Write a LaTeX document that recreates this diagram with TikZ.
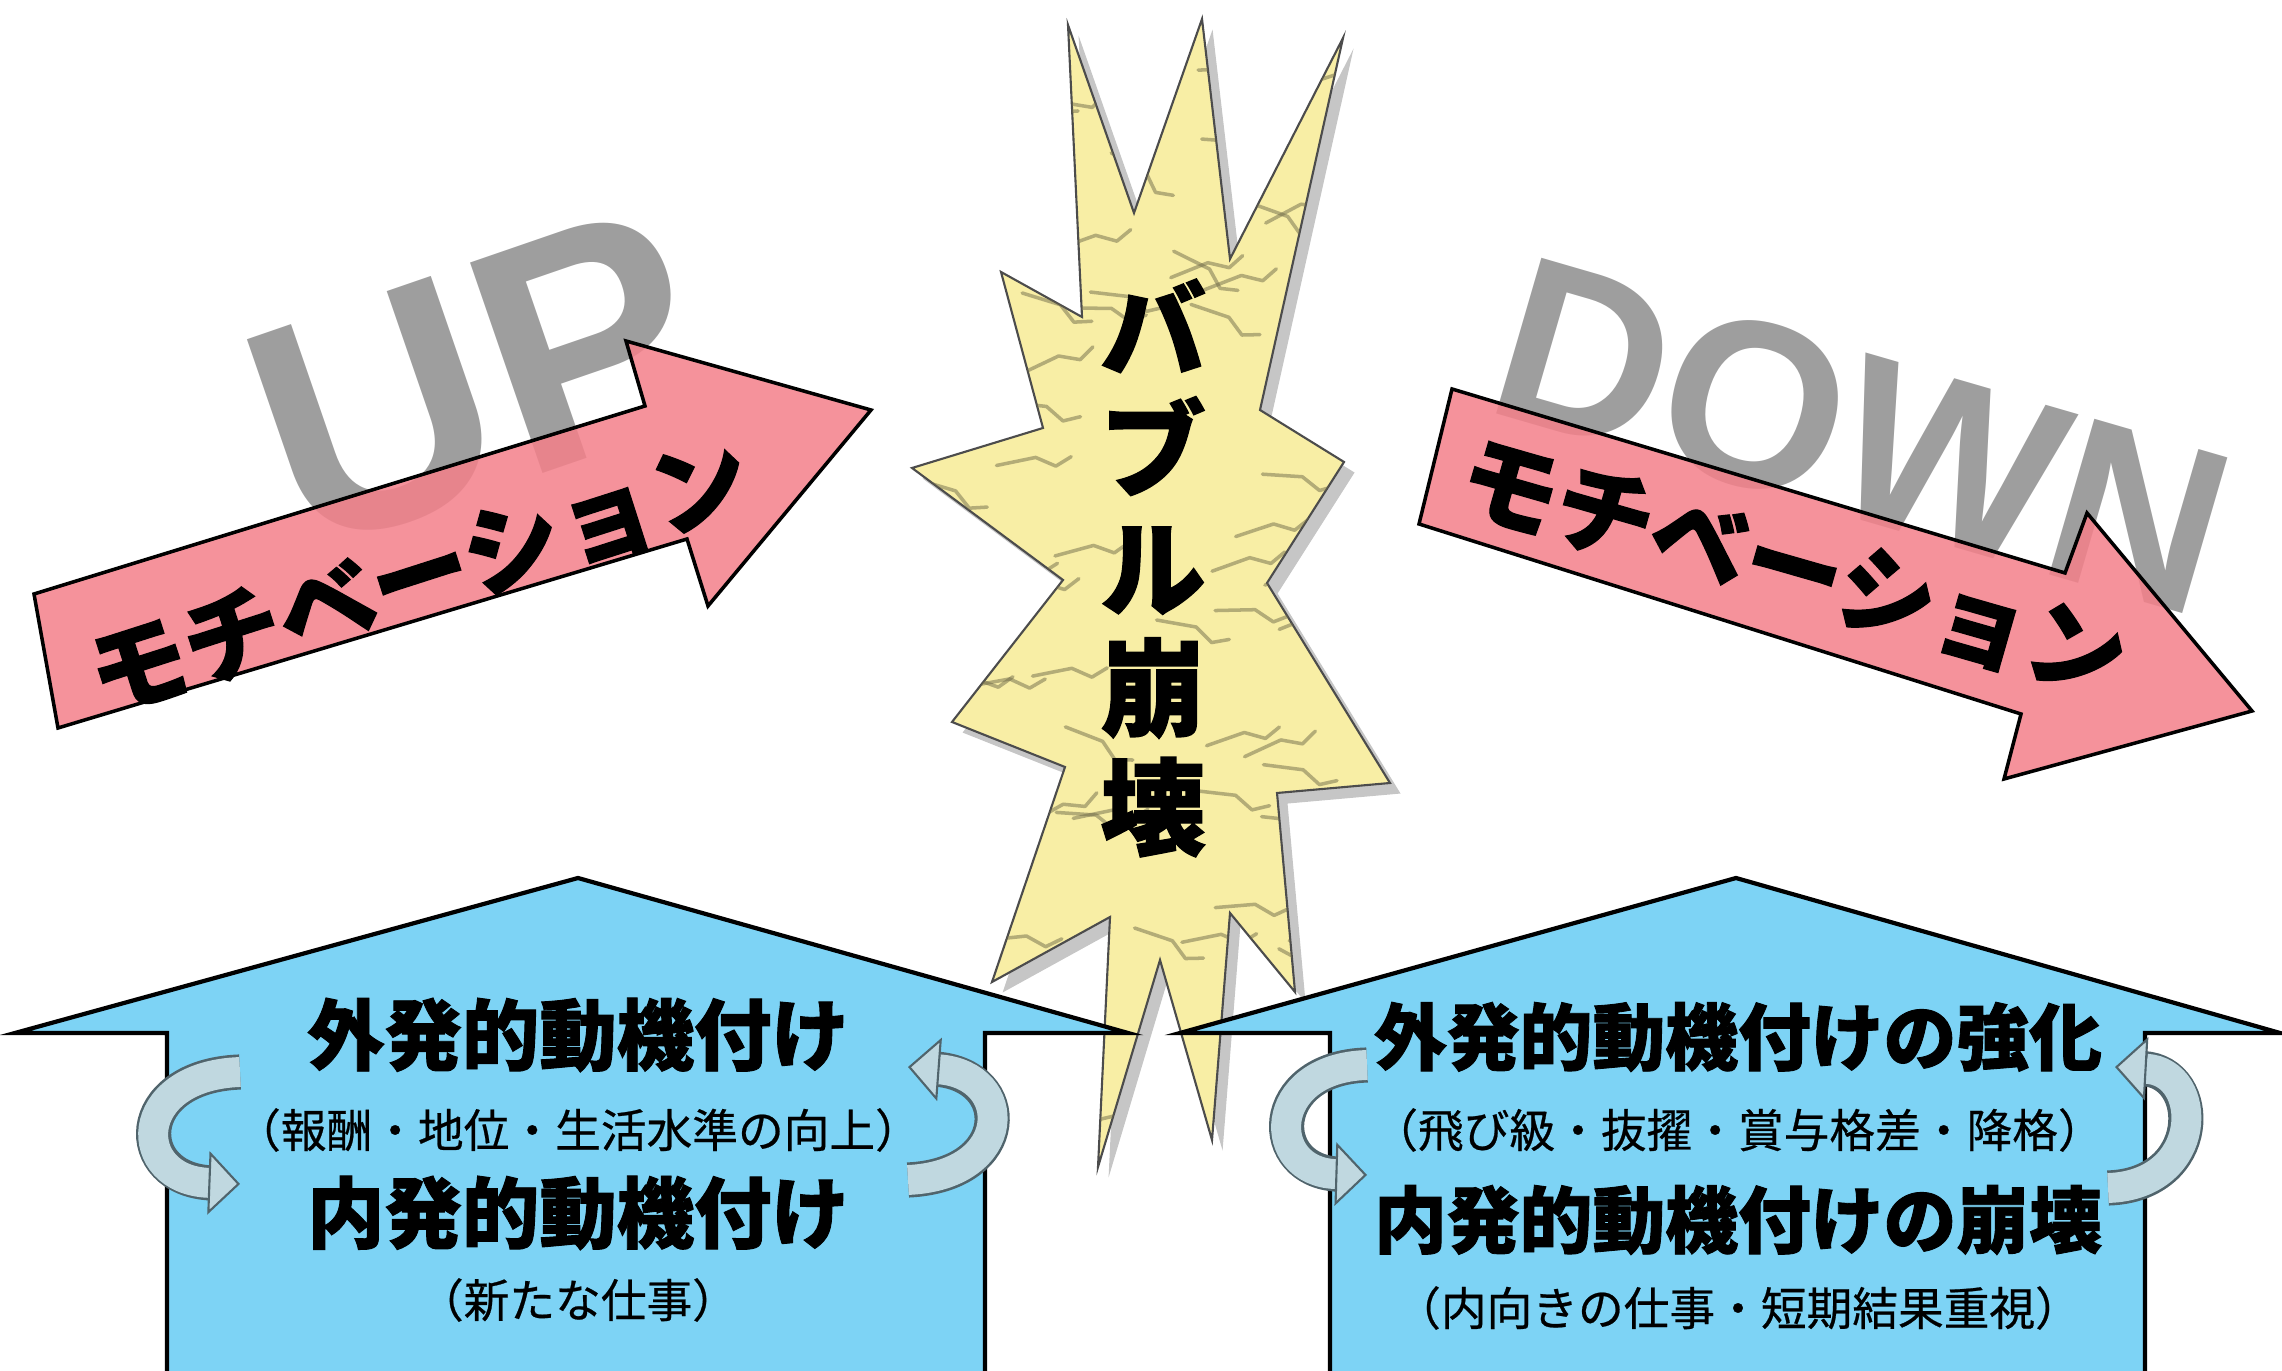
\documentclass[tikz,border=0pt]{standalone}
\usepackage{fontspec}
\newfontfamily\jpfont[BoldFeatures={FakeBold=1.2}]{Noto Sans CJK JP}
\newfontfamily\jpmedium[FakeBold=0.5]{Noto Sans CJK JP}
\newfontfamily\latinfont{Liberation Sans}
\usepackage{tikz}
\usetikzlibrary{shapes,shadows,arrows.meta,positioning}
\definecolor{arrowpink}{RGB}{243,128,138}
\definecolor{houseblue}{RGB}{125,211,245}
\definecolor{burstfill}{RGB}{248,238,165}
\definecolor{ribbonfill}{RGB}{192,216,224}
\definecolor{ribbonedge}{RGB}{80,100,108}
\definecolor{lettergray}{RGB}{158,158,158}
\tikzstyle{house} = [draw, line width=1.2pt, fill=houseblue, line join=miter]
\tikzstyle{pinkarrow} = [draw, line width=1pt, fill=arrowpink, fill opacity=0.86, line join=miter]
\tikzstyle{burst} = [draw=black!70, line width=0.6pt, fill=burstfill, drop shadow={opacity=0.45, shadow xshift=3pt, shadow yshift=-3pt}]
\tikzstyle{crinkle} = [draw=burstfill!45!black, line width=1pt, opacity=0.5, line cap=round, line join=round]
\tikzstyle{turn} = [draw=ribbonfill, line width=8.5pt, -{Triangle[width=18pt,length=9pt,fill=ribbonfill,color=ribbonedge,line width=0.6pt]}, preaction={draw=ribbonedge, line width=10pt, arrows=-, shorten >=8pt}]
\tikzstyle{upletters} = [font=\latinfont\bfseries\fontsize{92}{92}\selectfont, text=lettergray, inner sep=0pt, rotate=19]
\tikzstyle{downletters} = [font=\latinfont\bfseries\fontsize{67}{67}\selectfont, text=lettergray, inner sep=0pt, rotate=-16.2]
\tikzstyle{motivation} = [font=\jpfont\bfseries\fontsize{28}{28}\selectfont, inner sep=0pt]
\tikzstyle{bubble} = [font=\jpfont\bfseries\fontsize{30}{34}\selectfont, align=center, inner sep=0pt]
\tikzstyle{headl} = [font=\jpfont\bfseries\fontsize{22}{24}\selectfont, inner sep=0pt]
\tikzstyle{headr} = [font=\jpfont\bfseries\fontsize{20.7}{24}\selectfont, inner sep=0pt]
\tikzstyle{subtext} = [font=\jpmedium\fontsize{13}{15}\selectfont, inner sep=0pt]
\newcommand{\headl}[2]{node (h#1) [headl] {#2}}
\newcommand{\headr}[2]{node (h#1) [headr] {#2}}
\newcommand{\subtext}[2]{node (s#1) [subtext] {#2}}
\begin{document}
\begin{tikzpicture}[x=0.01cm,y=-0.01cm]
\useasboundingbox (0,0) rectangle (2282,1371);

% UP / DOWN behind the arrows
\path (478,380) node (up) [upletters] {UP};
\path (1862,436) node (down) [downletters] {DOWN};

% motivation arrows
\path [pinkarrow] (34,594) -- (645,406) -- (626,341) -- (871,410) -- (708,606) -- (687,539) -- (58,728) -- cycle;
\path (419,576) node (mup) [motivation, rotate=17.8] {モチベーション};
\path [pinkarrow] (1452,389) -- (2065,573) -- (2087,513) -- (2252,711) -- (2004,779) -- (2021,714) -- (1419,524) -- cycle;
\path (1793,568) node (mdown) [motivation, rotate=-16] {モチベーション};

% bubble burst
\path [burst] (1068,25) -- (1134,213) -- (1202,19) -- (1230,259) -- (1343,38) -- (1260,410)
  -- (1344,462) -- (1267,583) -- (1390,783) -- (1277,793) -- (1295,992) -- (1230,913)
  -- (1212,1140) -- (1160,960) -- (1098,1167) -- (1110,917) -- (992,982) -- (1065,767)
  -- (952,722) -- (1063,580) -- (912,468) -- (1043,428) -- (1001,272) -- (1082,317) -- cycle;
\begin{scope}
\clip (1068,25) -- (1134,213) -- (1202,19) -- (1230,259) -- (1343,38) -- (1260,410)
  -- (1344,462) -- (1267,583) -- (1390,783) -- (1277,793) -- (1295,992) -- (1230,913)
  -- (1212,1140) -- (1160,960) -- (1098,1167) -- (1110,917) -- (992,982) -- (1065,767)
  -- (952,722) -- (1063,580) -- (912,468) -- (1043,428) -- (1001,272) -- (1082,317) -- cycle;
\pgfmathsetseed{11}
\foreach \k in {1,...,70} {
  \pgfmathsetmacro{\cx}{910+480*rnd}
  \pgfmathsetmacro{\cy}{30+1130*rnd}
  \pgfmathsetmacro{\ca}{-30+60*rnd}
  \draw [crinkle] (\cx,\cy) -- ++(\ca:40) -- ++(\ca+35:22) -- ++(\ca-20:18);
}
\end{scope}
\path (1153,568) node (bb) [bubble] {バ\\ブ\\ル\\崩\\壊};

% houses
\path [house] (167,1400) -- (167,1033) -- (15,1033) -- (578,878) -- (1128,1033) -- (985,1033) -- (985,1400) -- cycle;
\path [house] (1330,1400) -- (1330,1033) -- (1180,1033) -- (1736,878) -- (2280,1033) -- (2145,1033) -- (2145,1400) -- cycle;
\coordinate (lroof) at (578,878);
\coordinate (rroof) at (1736,878);

\path (lroof)+(0,157) \headl{1}{外発的動機付け};
\path (lroof)+(0,252) \subtext{1}{（報酬・地位・生活水準の向上）};
\path (lroof)+(0,335) \headl{2}{内発的動機付け};
\path (lroof)+(0,422) \subtext{2}{（新たな仕事）};
\path (rroof)+(2,159) \headr{3}{外発的動機付けの強化};
\path (rroof)+(2,252) \subtext{3}{（飛び級・抜擢・賞与格差・降格）};
\path (rroof)+(2,342) \headr{4}{内発的動機付けの崩壊};
\path (rroof)+(2,430) \subtext{4}{（内向きの仕事・短期結果重視）};

% turning arrows
\coordinate (t1a) at (240,1072); \coordinate (t1b) at (240,1184);
\coordinate (t2a) at (908,1180); \coordinate (t2b) at (908,1067);
\coordinate (t3a) at (1367,1065); \coordinate (t3b) at (1367,1175);
\coordinate (t4a) at (2108,1188); \coordinate (t4b) at (2115,1067);
\draw [turn] (t1a) .. controls (130,1076) and (130,1180) .. (t1b);
\draw [turn] (t2a) .. controls (1015,1175) and (1015,1075) .. (t2b);
\draw [turn] (t3a) .. controls (1265,1068) and (1265,1172) .. (t3b);
\draw [turn] (t4a) .. controls (2205,1185) and (2205,1072) .. (t4b);
\end{tikzpicture}
\end{document}
